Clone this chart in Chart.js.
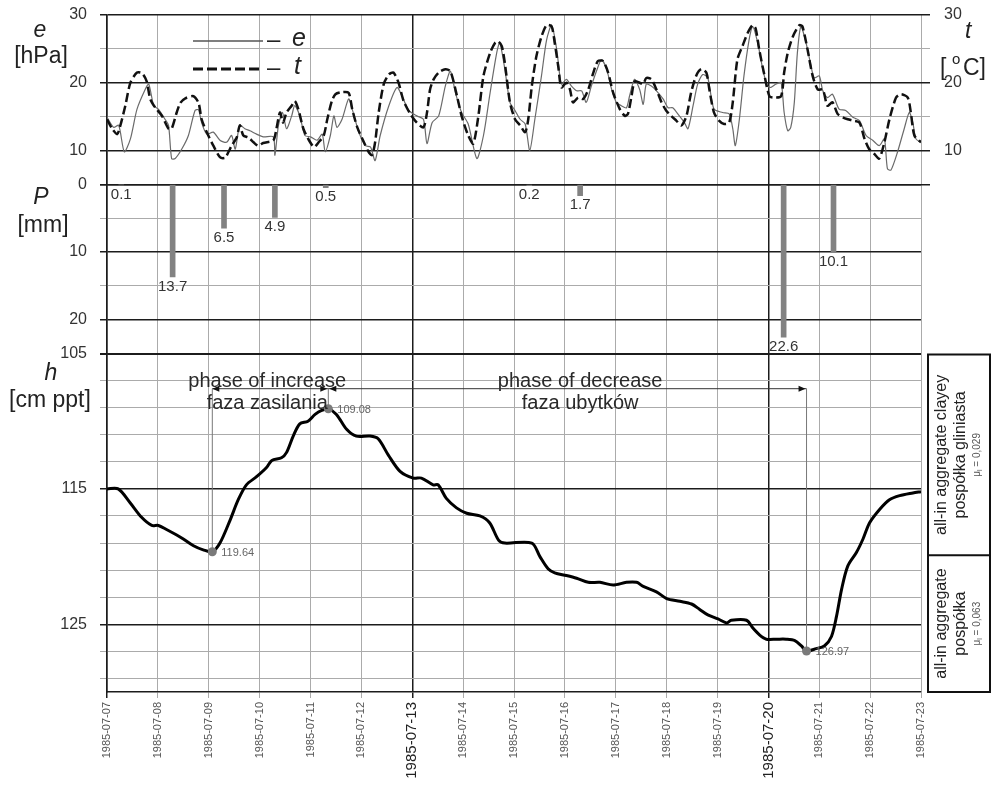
<!DOCTYPE html>
<html><head><meta charset="utf-8">
<script src="https://cdn.jsdelivr.net/npm/chart.js@4.4.0/dist/chart.umd.min.js"></script>
<style>html,body{margin:0;padding:0;background:#fff;}canvas{display:block;}</style>
</head><body>
<canvas id="c" width="996" height="786" style="width:996px;height:786px"></canvas>
<script>
// ---- data ----
const dateLabels = ['1985-07-07','1985-07-08','1985-07-09','1985-07-10','1985-07-11','1985-07-12','1985-07-13','1985-07-14','1985-07-15','1985-07-16','1985-07-17','1985-07-18','1985-07-19','1985-07-20','1985-07-21','1985-07-22','1985-07-23'];
const bigDates = [6, 13];

const eTime = [0,0.13,0.23,0.34,0.46,0.59,0.75,0.82,0.92,1.01,1.14,1.21,1.27,1.34,1.47,1.6,1.73,1.8,1.86,1.96,2.09,2.22,2.35,2.45,2.52,2.61,2.71,2.81,2.94,3.07,3.27,3.3,3.37,3.45,3.53,3.63,3.69,3.79,3.89,4.0,4.13,4.23,4.29,4.39,4.46,4.52,4.62,4.75,4.82,4.95,5.08,5.18,5.27,5.37,5.54,5.7,5.8,5.93,6.09,6.22,6.29,6.39,6.52,6.65,6.75,6.85,6.97,7.1,7.27,7.4,7.53,7.66,7.72,7.82,7.92,8.02,8.12,8.22,8.31,8.41,8.54,8.64,8.74,8.84,8.93,9.03,9.13,9.23,9.33,9.42,9.52,9.62,9.72,9.82,9.92,10.01,10.11,10.21,10.27,10.37,10.47,10.54,10.6,10.7,10.8,10.93,11.03,11.12,11.25,11.35,11.42,11.52,11.61,11.71,11.81,11.93,12.1,12.23,12.3,12.35,12.43,12.52,12.62,12.69,12.79,12.89,12.98,13.05,13.15,13.25,13.31,13.38,13.44,13.51,13.57,13.64,13.74,13.84,13.9,14.0,14.07,14.16,14.26,14.39,14.52,14.66,14.79,14.92,15.05,15.18,15.28,15.34,15.41,15.54,15.67,15.77,15.84,15.9,16.0];
const eVals = [14.9,13.4,13.7,9.8,11.7,16.1,19,19.8,16.6,16.1,14.6,13.7,8.8,8.8,10.2,12.2,15.9,16,14.1,12.4,12.7,11.5,11.2,12.2,10.2,13.7,13.2,12.9,12.4,12,12,9.3,13.7,15.6,13.2,15.1,16.6,15.1,12.2,12,11.5,12.4,9.8,12.2,15.1,13.4,14.6,17.6,16.1,12.7,10.7,10.5,8.5,12.2,16.6,19.3,18,15.9,15.1,14.6,11,14.1,15.1,19.5,21.7,18.5,15.6,13.9,8.8,12.2,18.5,24.4,25.9,22,17.1,15.9,14.6,13.9,10,14.6,21,26.3,28.5,24.9,19.8,20.5,19.5,18.8,18.8,17.1,19.5,21.7,23.4,22,19,17.1,16.6,16.3,18,20.5,19,16.8,19.8,19.5,18.8,17.6,16.3,16.3,15.1,14.1,13.2,16.6,19.8,21.2,20.7,16.1,15.6,15.4,13.2,10.7,14.6,21,26.3,28.3,25.9,22,19.5,19.3,19.8,20,15.6,12.9,13.4,17.1,24.4,28.3,25.9,22.4,20.7,21,18.8,17.8,18.3,16.1,15.9,14.9,14.4,12.2,11.5,10.7,11.7,7.3,7.1,9.8,13.2,15.6,14.1,11.7,11.2];

const tTime = [0,0.1,0.2,0.26,0.36,0.46,0.59,0.69,0.78,0.85,0.95,1.08,1.21,1.27,1.37,1.44,1.54,1.7,1.8,1.86,1.96,2.09,2.22,2.32,2.39,2.45,2.55,2.61,2.68,2.78,2.88,2.97,3.07,3.27,3.33,3.4,3.46,3.53,3.63,3.69,3.76,3.86,3.97,4.07,4.16,4.26,4.33,4.42,4.49,4.62,4.75,4.82,4.92,5.05,5.14,5.21,5.27,5.34,5.44,5.54,5.63,5.73,5.83,5.96,6.09,6.22,6.29,6.35,6.42,6.52,6.65,6.75,6.88,6.97,7.1,7.2,7.3,7.4,7.53,7.63,7.69,7.76,7.82,7.92,8.02,8.12,8.22,8.28,8.35,8.44,8.54,8.64,8.74,8.8,8.87,8.93,9.03,9.1,9.16,9.26,9.36,9.46,9.56,9.65,9.75,9.85,9.95,10.08,10.18,10.24,10.31,10.37,10.47,10.54,10.6,10.7,10.8,10.9,10.99,11.09,11.19,11.29,11.39,11.48,11.58,11.68,11.78,11.84,11.93,12.03,12.13,12.23,12.3,12.39,12.49,12.59,12.69,12.75,12.82,12.92,13.02,13.11,13.25,13.31,13.38,13.48,13.61,13.67,13.77,13.87,13.97,14.07,14.16,14.26,14.36,14.46,14.56,14.66,14.79,14.89,14.98,15.08,15.18,15.28,15.38,15.51,15.61,15.74,15.8,15.87,16.0];
const tVals = [14.6,13.2,12.4,13.6,16.6,20,21.5,21.4,20.2,17.6,16.3,15.1,13.2,13.2,15.6,17,17.7,18,17,14.6,12.7,10.7,9,8.9,9.8,10.7,11.9,13.7,12.2,11.9,11.2,10.7,11.1,11.5,13.2,15.6,14.1,15.6,16.6,17.3,16.1,13.2,11.5,10.5,11.2,12.2,14.6,17.3,18.3,18.6,18.5,16.1,13.4,11.2,9.8,9.3,11.2,15.6,19.8,21.2,21.5,20,17.3,15.4,14.1,13.4,15.6,19,20.5,21.5,22,21.7,18,15.1,12.2,11,15.1,21,24.4,25.9,26.1,25.4,22.9,17.1,14.6,13.7,12.7,14.6,19.5,23.9,26.8,28.5,28.3,25.9,22.4,19.3,20,19,17.1,17.8,17.6,19,21.5,23.2,23.2,21.5,18.5,16.1,15.1,15.4,18,20.2,20,19.8,20.7,20.5,19,17.1,15.9,15.1,14.4,13.7,15.1,18.5,21,22,21.5,19,15.6,14.4,13.9,14.1,17.1,23.4,25.4,27.3,28.5,28,24.9,21.2,18,17.8,18,21.5,24.4,26.8,28.5,28.3,24.9,21,19,19,16.6,17.1,15.4,14.9,14.6,14.4,14.1,11.7,10.2,9.5,8.8,11.2,14.6,17.8,18.3,17.8,15.6,12.2,11.2];

const pTime = [0.28,1.29,2.3,3.3,4.3,8.3,9.3,13.3,14.28];
const pVals = [0.1,13.7,6.5,4.9,0.5,0.2,1.7,22.6,10.1];

const hTime = [0,0.22,0.45,0.68,0.88,1.01,1.17,1.37,1.5,1.7,1.89,2.07,2.22,2.42,2.58,2.74,2.94,3.14,3.24,3.43,3.53,3.66,3.79,3.95,4.09,4.22,4.35,4.51,4.71,4.9,5.17,5.33,5.53,5.76,6.02,6.18,6.41,6.51,6.67,6.87,7.07,7.33,7.52,7.7,7.82,8.35,8.51,8.67,8.8,9.03,9.23,9.46,9.69,9.95,10.21,10.41,10.54,10.8,11.0,11.26,11.49,11.65,11.81,12.01,12.18,12.27,12.57,12.7,12.83,12.96,13.16,13.35,13.52,13.65,13.75,13.94,14.1,14.24,14.34,14.44,14.56,14.73,14.86,14.99,15.19,15.38,15.58,15.84,16.0];
const hVals = [115.0,115.0,116.0,117.1,117.7,117.7,118.0,118.4,118.7,119.2,119.5,119.64,119.0,117.3,115.8,114.7,114.1,113.4,112.9,112.7,112.3,111.1,110.2,110.0,109.5,109.2,109.08,109.5,110.6,111.1,111.1,111.3,112.5,113.7,114.2,114.2,114.7,114.7,115.7,116.4,116.8,117.0,117.5,118.8,119.0,119.0,120.0,120.9,121.2,121.4,121.6,121.9,121.9,122.1,121.9,121.9,122.2,122.6,123.1,123.3,123.5,123.9,124.3,124.6,124.9,124.7,124.7,125.3,125.8,126.1,126.1,126.1,126.2,126.6,126.97,126.8,126.6,125.9,124.4,122.4,120.7,119.7,118.7,117.5,116.5,115.8,115.5,115.3,115.2];

const extTime = [2.07, 4.35, 13.75];
const extVals = [119.64, 109.08, 126.97];

const eTicks = [5,10,15,20,25,30];
const eLabeled = [10,20,30];
const pTicks = [0,5,10,15,20,25];
const pLabeled = [0,10,20];
const hTicks = [105,107,109,111,113,115,117,119,121,123,125,127,129];
const hLabeled = [105,115,125];

// ---- helpers ----
const F = '"Liberation Sans", Arial, sans-serif';
Chart.defaults.font.family = F;
const zip = (a, b) => a.map((v, i) => ({x: v, y: b[i]}));
const setTicks = arr => axis => { axis.ticks = arr.map(v => ({value: v})); };
const DARK = '#1c1c1c', LIGHT = '#ababab';

const annot = {
  id: 'annot',
  afterDraw(chart) {
    const {ctx, chartArea: ca, scales} = chart;
    const xs = scales.x, yE = scales.yE, yP = scales.yP, yH = scales.yH;
    const X = v => xs.getPixelForValue(v);
    ctx.save();
    // left axis titles
    ctx.fillStyle = '#222';
    ctx.textAlign = 'center';
    ctx.textBaseline = 'alphabetic';
    ctx.font = 'italic 23px ' + F;
    ctx.fillText('e', ca.left - 67, yE.top + 22);
    ctx.fillText('P', ca.left - 66, yP.top + 20);
    ctx.fillText('h', ca.left - 56, yH.top + 26);
    ctx.font = '23px ' + F;
    ctx.fillText('[hPa]', ca.left - 66, yE.top + 48);
    ctx.fillText('[mm]', ca.left - 64, yP.top + 48);
    ctx.fillText('[cm ppt]', ca.left - 57, yH.top + 53);
    // right title
    ctx.textAlign = 'left';
    ctx.font = 'italic 23px ' + F;
    ctx.fillText('t', ca.right + 44, yE.top + 23);
    ctx.font = '23px ' + F;
    ctx.fillText('[', ca.right + 19, yE.top + 60);
    ctx.fillText('C]', ca.right + 42, yE.top + 60);
    ctx.font = '15px ' + F;
    ctx.fillText('o', ca.right + 31, yE.top + 49);

    // legend
    const lx0 = ca.left + 86, lx1 = ca.left + 156;
    ctx.strokeStyle = '#555'; ctx.lineWidth = 1.5; ctx.setLineDash([]);
    ctx.beginPath(); ctx.moveTo(lx0, yE.top + 26); ctx.lineTo(lx1, yE.top + 26); ctx.stroke();
    ctx.strokeStyle = '#111'; ctx.lineWidth = 3; ctx.setLineDash([10, 4]);
    ctx.beginPath(); ctx.moveTo(lx0, yE.top + 54); ctx.lineTo(lx1, yE.top + 54); ctx.stroke();
    ctx.setLineDash([]);
    ctx.fillStyle = '#222';
    ctx.textBaseline = 'middle';
    ctx.font = '24px ' + F;
    ctx.fillText('\u2013', lx1 + 4, yE.top + 25);
    ctx.fillText('\u2013', lx1 + 4, yE.top + 53);
    ctx.font = 'italic 25px ' + F;
    ctx.fillText('e', lx1 + 29, yE.top + 24);
    ctx.fillText('t', lx1 + 31, yE.top + 52);

    // precipitation labels
    ctx.fillStyle = '#333';
    ctx.font = '15px ' + F;
    ctx.textAlign = 'center';
    ctx.textBaseline = 'top';
    pTime.forEach((t, i) => {
      ctx.fillText(pVals[i].toFixed(1), X(t), yP.getPixelForValue(pVals[i]) + 2);
    });

    // phase texts
    ctx.fillStyle = '#2a2a2a';
    ctx.font = '20px ' + F;
    ctx.textBaseline = 'alphabetic';
    ctx.fillText('phase of increase', X(3.15), yH.getPixelForValue(107.5));
    ctx.fillText('faza zasilania', X(3.15), yH.getPixelForValue(109.1));
    ctx.fillText('phase of decrease', X(9.3), yH.getPixelForValue(107.5));
    ctx.fillText('faza ubytk\u00f3w', X(9.3), yH.getPixelForValue(109.1));

    // arrows
    const ay = yH.getPixelForValue(107.6);
    ctx.strokeStyle = '#333'; ctx.lineWidth = 1;
    ctx.beginPath(); ctx.moveTo(X(extTime[0]), ay); ctx.lineTo(X(extTime[2]), ay); ctx.stroke();
    ctx.strokeStyle = '#777';
    extTime.forEach((t, i) => {
      ctx.beginPath(); ctx.moveTo(X(t), ay); ctx.lineTo(X(t), yH.getPixelForValue(extVals[i])); ctx.stroke();
    });
    ctx.fillStyle = '#111';
    const head = (x, dir) => {
      ctx.beginPath(); ctx.moveTo(x, ay); ctx.lineTo(x - dir * 7, ay - 3); ctx.lineTo(x - dir * 7, ay + 3); ctx.closePath(); ctx.fill();
    };
    head(X(extTime[0]), -1);
    head(X(extTime[1]) - 1, 1);
    head(X(extTime[1]) + 1, -1);
    head(X(extTime[2]) - 1, 1);

    // extreme labels
    ctx.fillStyle = '#666';
    ctx.font = '11px ' + F;
    ctx.textAlign = 'left';
    ctx.textBaseline = 'middle';
    extTime.forEach((t, i) => {
      ctx.fillText(extVals[i].toFixed(2), X(t) + 9, yH.getPixelForValue(extVals[i]) + 1);
    });

    // right boxes
    const bx0 = ca.right + 7, bx1 = chart.width - 6;
    const by0 = yH.top + 1, bym = yH.getPixelForValue(119.9), by1 = yH.bottom;
    ctx.strokeStyle = '#111'; ctx.lineWidth = 2;
    ctx.strokeRect(bx0, by0, bx1 - bx0, by1 - by0);
    ctx.beginPath(); ctx.moveTo(bx0, bym); ctx.lineTo(bx1, bym); ctx.stroke();
    const boxText = (cy, l1, l2, mu) => {
      ctx.save();
      ctx.translate(bx0, cy);
      ctx.rotate(-Math.PI / 2);
      ctx.fillStyle = '#222';
      ctx.textAlign = 'center';
      ctx.textBaseline = 'middle';
      ctx.font = '16px ' + F;
      ctx.fillText(l1, 0, 14);
      ctx.fillText(l2, 0, 33);
      ctx.fillStyle = '#555';
      ctx.textAlign = 'left';
      ctx.font = '10px ' + F;
      const wMu = ctx.measureText('\u03bc').width;
      const wRest = ctx.measureText(' = ' + mu).width;
      ctx.font = '7px ' + F;
      const wL = ctx.measureText('l').width;
      let sx = -(wMu + wL + wRest) / 2;
      ctx.font = '10px ' + F;
      ctx.fillText('\u03bc', sx, 49);
      ctx.font = '7px ' + F;
      ctx.fillText('l', sx + wMu, 52);
      ctx.font = '10px ' + F;
      ctx.fillText(' = ' + mu, sx + wMu + wL, 49);
      ctx.restore();
    };
    boxText((by0 + bym) / 2, 'all-in aggregate clayey', 'posp\u00f3\u0142ka gliniasta', '0,029');
    boxText((bym + by1) / 2, 'all-in aggregate', 'posp\u00f3\u0142ka', '0,063');
    ctx.restore();
  }
};

const noPad = s => { s.paddingTop = 0; s.paddingBottom = 0; s.paddingLeft = 0; s.paddingRight = 0; };
const leftW = s => { s.width = 107; noPad(s); };
const rightW = s => { s.width = 75; noPad(s); };
const tickFont = {size: 16, family: F};

new Chart(document.getElementById('c'), {
  type: 'line',
  data: {
    datasets: [
      {type: 'line', data: zip(extTime, extVals), yAxisID: 'yH', showLine: false, pointRadius: 4.5, pointBackgroundColor: '#7a7a7a', pointBorderWidth: 0},
      {type: 'line', data: zip(hTime, hVals), yAxisID: 'yH', borderColor: '#000', borderWidth: 3, pointRadius: 0, tension: 0.3},
      {type: 'bar', data: zip(pTime, pVals), yAxisID: 'yP', backgroundColor: '#828282', barThickness: 5},
      {type: 'line', data: zip(tTime, tVals), yAxisID: 'yE', borderColor: '#111', borderWidth: 2.5, borderDash: [9, 4], pointRadius: 0, tension: 0.25},
      {type: 'line', data: zip(eTime, eVals), yAxisID: 'yE', borderColor: '#6a6a6a', borderWidth: 1.2, pointRadius: 0, tension: 0.25}
    ]
  },
  options: {
    responsive: false,
    animation: false,
    layout: {autoPadding: false, padding: {top: 15, left: 0, right: 0, bottom: 0}},
    plugins: {legend: {display: false}, tooltip: {enabled: false}},
    scales: {
      x: {
        type: 'linear', min: 0, max: 16, offset: false,
        afterBuildTicks: setTicks(dateLabels.map((_, i) => i)),
        afterFit: s => { s.height = 94; noPad(s); },
        ticks: {
          autoSkip: false, minRotation: 90, maxRotation: 90, padding: 4,
          callback: v => dateLabels[v],
          font: c => ({family: F, size: bigDates.includes(c.tick && c.tick.value) ? 15 : 11}),
          color: c => bigDates.includes(c.tick && c.tick.value) ? '#222' : '#555'
        },
        grid: {
          offset: false, tickLength: 6,
          color: c => (bigDates.includes(c.tick.value) || c.tick.value === 0) ? DARK : LIGHT,
          lineWidth: c => (bigDates.includes(c.tick.value) || c.tick.value === 0) ? 1.5 : 1
        },
        border: {display: true, color: DARK, width: 1.5}
      },
      yH: {
        type: 'linear', position: 'left', stack: 'L', stackWeight: 2,
        min: 105, max: 130, reverse: true,
        afterBuildTicks: setTicks(hTicks), afterFit: leftW,
        ticks: {autoSkip: false, font: tickFont, color: '#333', padding: 13, callback: v => hLabeled.includes(v) ? String(v) : ''},
        grid: {tickLength: 7,
          color: c => hLabeled.includes(c.tick.value) ? DARK : LIGHT,
          lineWidth: c => c.tick.value === 105 ? 2 : (hLabeled.includes(c.tick.value) ? 1.5 : 1)},
        border: {display: true, color: DARK, width: 1.5}
      },
      yP: {
        type: 'linear', position: 'left', stack: 'L', stackWeight: 1,
        min: 0, max: 25, reverse: true,
        afterBuildTicks: setTicks(pTicks), afterFit: leftW,
        ticks: {autoSkip: false, font: tickFont, color: '#333', padding: 13, callback: v => pLabeled.includes(v) ? String(v) : ''},
        grid: {tickLength: 7,
          color: c => (pLabeled.includes(c.tick.value) || c.tick.value === 25) ? DARK : LIGHT,
          lineWidth: c => c.tick.value === 25 ? 2 : (pLabeled.includes(c.tick.value) ? 1.5 : 1)},
        border: {display: true, color: DARK, width: 1.5}
      },
      yE: {
        type: 'linear', position: 'left', stack: 'L', stackWeight: 1,
        min: 5, max: 30,
        afterBuildTicks: setTicks(eTicks), afterFit: leftW,
        ticks: {autoSkip: false, font: tickFont, color: '#333', padding: 13, callback: v => eLabeled.includes(v) ? String(v) : ''},
        grid: {tickLength: 7,
          color: c => (eLabeled.includes(c.tick.value) || c.tick.value === 5) ? DARK : LIGHT,
          lineWidth: c => (eLabeled.includes(c.tick.value) || c.tick.value === 5) ? 1.5 : 1},
        border: {display: true, color: DARK, width: 1.5}
      },
      yT: {
        type: 'linear', position: 'right', stack: 'R', stackWeight: 1,
        min: 5, max: 30,
        afterBuildTicks: setTicks(eTicks), afterFit: rightW,
        ticks: {autoSkip: false, font: tickFont, color: '#333', padding: 14, callback: v => eLabeled.includes(v) ? String(v) : ''},
        grid: {drawOnChartArea: false, tickLength: 9,
          color: c => (eLabeled.includes(c.tick.value) || c.tick.value === 5) ? DARK : LIGHT,
          lineWidth: c => (eLabeled.includes(c.tick.value) || c.tick.value === 5) ? 1.5 : 1},
        border: {display: false}
      },
      yR: {
        type: 'linear', position: 'right', stack: 'R', stackWeight: 3,
        min: 0, max: 1, afterFit: rightW,
        ticks: {display: false}, grid: {display: false}, border: {display: false}
      }
    }
  },
  plugins: [annot]
});
</script>
</body></html>
